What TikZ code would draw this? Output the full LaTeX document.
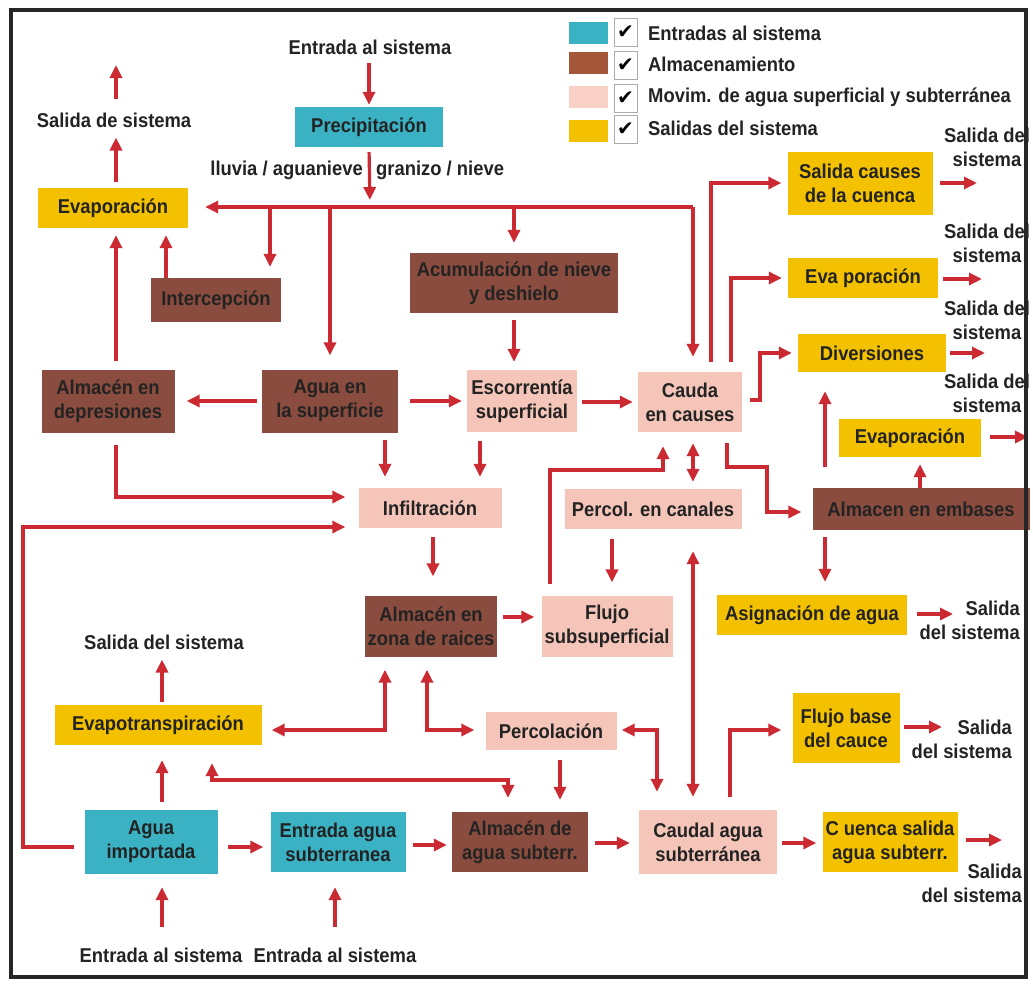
\documentclass[tikz,border=0pt]{standalone}
\usepackage{fontspec}
\usetikzlibrary{arrows.meta}
\newfontfamily\lab[FakeStretch=0.92]{Liberation Sans Bold}
\newfontfamily\chk{DejaVu Sans}
\definecolor{cy}{RGB}{58,178,196}
\definecolor{br}{RGB}{138,76,62}
\definecolor{brl}{RGB}{165,86,58}
\definecolor{pk}{RGB}{246,197,185}
\definecolor{pkl}{RGB}{249,208,198}
\definecolor{yl}{RGB}{243,193,0}
\definecolor{rd}{RGB}{204,42,50}
\definecolor{tx}{RGB}{35,35,35}
\begin{document}
\begin{tikzpicture}[x=1pt,y=-1pt,
  every node/.style={font=\lab\fontsize{20}{24}\selectfont, text=tx, align=center, inner sep=0pt},
  bx/.style={rectangle, inner sep=0pt, align=center},
  inb/.style={bx, fill=cy},
  stb/.style={bx, fill=br},
  mvb/.style={bx, fill=pk},
  otb/.style={bx, fill=yl},
  chkbox/.style={bx, draw=gray!65, line width=1pt, minimum width=23, minimum height=28},
  arr/.style={draw=rd, line width=3.2pt, -{Triangle[length=13pt,width=12pt]}},
  arr2/.style={draw=rd, line width=3.2pt, {Triangle[length=13pt,width=12pt]}-{Triangle[length=13pt,width=12pt]}}]
\useasboundingbox (0,0) rectangle (1033,983);
\fill[white] (0,0) rectangle (1033,983);

% ---------- legend ----------
\node[bx, fill=cy, minimum width=39, minimum height=22] (sw1) at (588,33) {};
\node[bx, fill=brl, minimum width=39, minimum height=22] (sw2) at (588,63) {};
\node[bx, fill=pkl, minimum width=39, minimum height=22] (sw3) at (588,97) {};
\node[bx, fill=yl, minimum width=39, minimum height=22] (sw4) at (588,131) {};
\node[chkbox] (cb1) at (625.5,32) {\chk\fontsize{20}{20}\selectfont\color{black}✔};
\node[chkbox] (cb2) at (625.5,65) {\chk\fontsize{20}{20}\selectfont\color{black}✔};
\node[chkbox] (cb3) at (625.5,98) {\chk\fontsize{20}{20}\selectfont\color{black}✔};
\node[chkbox] (cb4) at (625.5,129) {\chk\fontsize{20}{20}\selectfont\color{black}✔};
\node[anchor=west] (lg1) at (648,33) {Entradas al sistema};
\node[anchor=west] (lg2) at (648,64) {Almacenamiento};
\node[anchor=west] (lg3) at (648,97) {Movim. de agua superficial y subterránea};
\node[anchor=west] (lg4) at (648,128) {Salidas del sistema};

% ---------- boxes ----------
\node[inb, minimum width=148, minimum height=40] (prec) at (369,127) {Precipitación};
\node[otb, minimum width=150, minimum height=40] (evapL) at (113,208) {Evaporación};
\node[stb, minimum width=130, minimum height=44] (inter) at (216,300) {Intercepción};
\node[stb, minimum width=208, minimum height=60] (acum) at (514,283) {Acumulación de nieve\\y deshielo};
\node[stb, minimum width=133, minimum height=63] (almdep) at (108,401) {Almacén en\\depresiones};
\node[stb, minimum width=136, minimum height=63] (agua) at (330,401) {Agua en\\la superficie};
\node[mvb, minimum width=110, minimum height=62] (esc) at (522,401) {Escorrentía\\superficial};
\node[mvb, minimum width=104, minimum height=60] (cauda) at (690,402) {Cauda\\en causes};
\node[otb, minimum width=145, minimum height=63] (salcau) at (860,183) {Salida causes\\de la cuenca};
\node[otb, minimum width=150, minimum height=40] (evapR1) at (863,278) {Eva poración};
\node[otb, minimum width=148, minimum height=38] (divers) at (872,353) {Diversiones};
\node[otb, minimum width=142, minimum height=38] (evapR2) at (910,438) {Evaporación};
\node[stb, minimum width=217, minimum height=42] (embas) at (921,509) {Almacen en embases};
\node[otb, minimum width=190, minimum height=40] (asig) at (812,615) {Asignación de agua};
\node[mvb, minimum width=143, minimum height=40] (infil) at (430,508) {Infiltración};
\node[mvb, minimum width=177, minimum height=40] (percan) at (653,509) {Percol. en canales};
\node[stb, minimum width=132, minimum height=61] (raices) at (431,626) {Almacén en\\zona de raices};
\node[mvb, minimum width=131, minimum height=61] (flujo) at (607,626) {Flujo\\subsuperficial};
\node[mvb, minimum width=131, minimum height=38] (percol) at (551,731) {Percolación};
\node[otb, minimum width=207, minimum height=40] (evapot) at (158,725) {Evapotranspiración};
\node[inb, minimum width=133, minimum height=64] (aguaimp) at (151,842) {Agua\\importada};
\node[inb, minimum width=135, minimum height=60] (entsub) at (338,842) {Entrada agua\\subterranea};
\node[stb, minimum width=136, minimum height=60] (almsub) at (520,842) {Almacén de\\agua subterr.};
\node[mvb, minimum width=138, minimum height=64] (caudal) at (708,842) {Caudal agua\\subterránea};
\node[otb, minimum width=107, minimum height=70] (flujob) at (846,728) {Flujo base\\del cauce};
\node[otb, minimum width=135, minimum height=60] (cuenca) at (890,842) {C uenca salida\\agua subterr.};

% ---------- free labels ----------
\node (entTop) at (370,47) {Entrada al sistema};
\node[anchor=east] (lluL) at (363,170) {lluvia / aguanieve};
\node[anchor=west] (lluR) at (376,170) {granizo / nieve};
\node (salDe) at (114,120) {Salida de sistema};
\node (salR1) at (987,147) {Salida del\\sistema};
\node (salR2) at (987,243) {Salida del\\sistema};
\node (salR3) at (987,320) {Salida del\\sistema};
\node (salR4) at (987,393) {Salida del\\sistema};
\node[anchor=east, align=right] (salAs) at (1020,620) {Salida\\del sistema};
\node[anchor=east, align=right] (salFB) at (1012,739) {Salida\\del sistema};
\node[anchor=east, align=right] (salCu) at (1022,883) {Salida\\del sistema};
\node (salEvt) at (164,642) {Salida del sistema};
\node (entB1) at (161,955) {Entrada al sistema};
\node (entB2) at (335,955) {Entrada al sistema};

% ---------- free ends ----------
\coordinate (jP) at (370,207);
\coordinate (jR) at (693,207);
\coordinate (oDe) at (116,65);
\coordinate (o1) at (977,183);
\coordinate (o2) at (982,279);
\coordinate (o3) at (985,353);
\coordinate (o4) at (1028,437);
\coordinate (o5) at (953,614);
\coordinate (o6) at (942,727);
\coordinate (o7) at (1002,840);

% ---------- connectors ----------
\draw[arr, shorten <=8, shorten >=2] (entTop.south -| prec.north) -- (prec.north);
\draw[arr, shorten <=5, shorten >=7] (prec.south) -- (jP);
\draw[arr, shorten >=17] (jR) -- (evapL.east |- jR);
\draw[arr, shorten >=15] (jR) -- (jR |- cauda.north);
\draw[arr, shorten >=11] (jR -| 270,0) -- (inter.north -| 270,0);
\draw[arr, shorten >=14] (jR -| agua.north) -- (agua.north);
\draw[arr, shorten >=10] (jR -| acum.north) -- (acum.north);
\draw[arr, shorten >=7] (inter.north -| 166,0) -- (evapL.south -| 166,0);
\draw[arr, shorten <=8, shorten >=7] (almdep.north -| 116,0) -- (evapL.south -| 116,0);
\draw[arr, shorten <=6, shorten >=10] (evapL.north -| 116,0) -- (salDe.south -| 116,0);
\draw[arr, shorten <=13] (salDe.north -| 116,0) -- (oDe);
\draw[arr, shorten <=7, shorten >=8] (acum.south) -- (acum.south |- esc.north);
\draw[arr, shorten <=5, shorten >=12] (agua.west) -- (almdep.east);
\draw[arr, shorten <=12, shorten >=5] (agua.east) -- (esc.west);
\draw[arr, shorten <=5, shorten >=5] (esc.east |- 0,402) -- (cauda.west |- 0,402);
\draw[arr, shorten <=10, shorten >=6] (cauda.north -| 711,0) |- (salcau.west);
\draw[arr, shorten <=10, shorten >=6] (cauda.north -| 731,0) |- (evapR1.west);
\draw[arr, shorten <=8, shorten >=6] (cauda.east |- 0,400) -- (760,400) |- (divers.west);
\draw[arr, shorten <=7] (salcau.east) -- (o1);
\draw[arr, shorten <=5] (evapR1.east |- o2) -- (o2);
\draw[arr, shorten <=4] (divers.east) -- (o3);
\draw[arr, shorten <=9] (evapR2.east |- o4) -- (o4);
\draw[arr, shorten <=10] (asig.east |- o5) -- (o5);
\draw[arr, shorten <=4] (flujob.east |- o6) -- (o6);
\draw[arr, shorten <=8] (cuenca.east |- o7) -- (o7);
\draw[arr, shorten <=11, shorten >=11] (cauda.south -| 727,0) |- (767,467) |- (embas.west |- 0,512);
\draw[arr, shorten >=7] (embas.north -| 920,0) -- (evapR2.south -| 920,0);
\draw[arr, shorten <=21, shorten >=19] (embas.north -| 825,0) -- (divers.south -| 825,0);
\draw[arr, shorten <=7, shorten >=13] (embas.south -| 825,0) -- (asig.north -| 825,0);
\draw[arr2, shorten <=11, shorten >=7] (cauda.south -| 693,0) -- (percan.north -| 693,0);
\draw[arr, shorten <=11, shorten >=14] (flujo.north -| 550,0) |- (663,470) -- (cauda.south -| 663,0);
\draw[arr, shorten <=10, shorten >=13] (percan.south -| 612,0) -- (flujo.north -| 612,0);
\draw[arr2, shorten <=13, shorten >=22] (caudal.north -| 693,0) -- (percan.south -| 693,0);
\draw[arr, shorten <=9, shorten >=19] (infil.south -| 433,0) -- (raices.north -| 433,0);
\draw[arr, shorten <=7, shorten >=11] (agua.south -| 385,0) -- (infil.north -| 385,0);
\draw[arr, shorten <=9, shorten >=11] (esc.south -| 480,0) -- (infil.north -| 480,0);
\draw[arr, shorten <=12, shorten >=13] (almdep.south -| 116,0) |- (infil.west |- 0,497);
\draw[arr, shorten <=10, shorten >=13] (aguaimp.west |- 0,847) -| (23,527) -- (infil.west |- 0,527);
\draw[arr, shorten <=6, shorten >=7] (raices.east |- 0,617) -- (flujo.west |- 0,617);
\draw[arr2, shorten <=13, shorten >=10] (raices.south -| 385,0) |- (evapot.east |- 0,730);
\draw[arr2, shorten <=13, shorten >=11] (raices.south -| 427,0) |- (percol.west |- 0,730);
\draw[arr, shorten <=10, shorten >=12] (percol.south -| 560,0) -- (almsub.north -| 560,0);
\draw[arr2, shorten <=5, shorten >=18] (percol.east |- 0,730) -| (caudal.north -| 657,0);
\draw[arr2, shorten <=18, shorten >=14] (evapot.south -| 212,0) |- (508,780) -- (almsub.north -| 508,0);
\draw[arr, shorten <=8, shorten >=15] (aguaimp.north -| 162,0) -- (evapot.south -| 162,0);
\draw[arr, shorten <=3, shorten >=10] (evapot.north -| 162,0) -- (salEvt.south -| 162,0);
\draw[arr, shorten <=10, shorten >=7] (aguaimp.east |- 0,847) -- (entsub.west |- 0,847);
\draw[arr, shorten <=7, shorten >=5] (entsub.east |- 0,845) -- (almsub.west |- 0,845);
\draw[arr, shorten <=7, shorten >=9] (almsub.east |- 0,843) -- (caudal.west |- 0,843);
\draw[arr, shorten <=5, shorten >=6] (caudal.east |- 0,843) -- (cuenca.west |- 0,843);
\draw[arr, shorten <=13, shorten >=11] (caudal.north -| 730,0) |- (flujob.west |- 0,730);
\draw[arr, shorten <=20, shorten >=13] (entB1.north -| 162,0) -- (aguaimp.south -| 162,0);
\draw[arr, shorten <=20, shorten >=15] (entB2.north -| 335,0) -- (entsub.south -| 335,0);

% ---------- frame ----------
\draw[line width=4pt, black!85] (10.5,9.5) rectangle (1025.5,976.5);
\end{tikzpicture}
\end{document}
